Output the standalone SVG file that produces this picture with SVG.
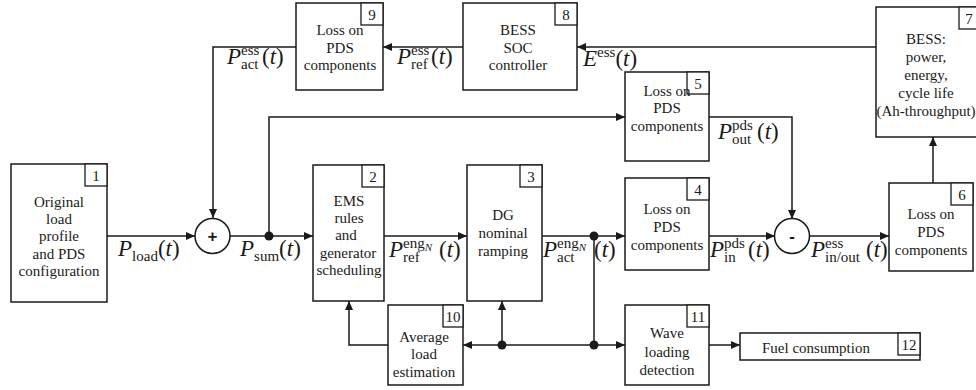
<svg xmlns="http://www.w3.org/2000/svg" width="976" height="390" viewBox="0 0 976 390">
<defs>
<marker id="ah" markerUnits="userSpaceOnUse" markerWidth="10" markerHeight="8" refX="9" refY="4" orient="auto">
<path d="M0,0 L9,4 L0,8 Z" fill="#1a1a1a"/>
</marker>
<style>
.box{fill:#fff;stroke:#1a1a1a;stroke-width:1.5}
.nb{fill:#fff;stroke:#1a1a1a;stroke-width:1.3}
.t{font-family:"Liberation Serif","Times New Roman",serif;font-size:15px;fill:#1a1a1a;text-anchor:middle}
.n{font-family:"Liberation Serif","Times New Roman",serif;font-size:15px;fill:#1a1a1a;text-anchor:middle}
.c{fill:none;stroke:#1a1a1a;stroke-width:1.5}
.a{marker-end:url(#ah)}
.dot{fill:#1a1a1a}
.m{font-family:"Liberation Serif","Times New Roman",serif;font-size:23px;fill:#1a1a1a}
.i{font-style:italic}
.s{font-size:15px}
.ss{font-size:11px;font-style:italic}
.sign{font-family:"Liberation Sans",Arial,sans-serif;font-size:17px;font-weight:bold;fill:#1a1a1a;text-anchor:middle}
</style>
</defs>

<g id="connectors">
<path class="c a" d="M107,236 H195"/>
<path class="c a" d="M230,236 H313"/>
<path class="c a" d="M269,236 V117 H625"/>
<path class="c a" d="M296,47 H213 V218"/>
<path class="c a" d="M463,47 H383"/>
<path class="c a" d="M876,47 H577"/>
<path class="c a" d="M384,236 H467"/>
<path class="c a" d="M542,236 H625"/>
<path class="c" d="M594,236 V345"/>
<path class="c a" d="M594,345 H625"/>
<path class="c a" d="M594,345 H463"/>
<path class="c a" d="M502,345 V301"/>
<path class="c a" d="M388,345 H349 V301"/>
<path class="c a" d="M709,236 H775"/>
<path class="c a" d="M709,117 H792 V219"/>
<path class="c a" d="M809,236 H889"/>
<path class="c a" d="M933,183 V137"/>
<path class="c a" d="M709,345 H740"/>
<circle class="dot" cx="269" cy="236" r="4.5"/>
<circle class="dot" cx="594" cy="236" r="4.5"/>
<circle class="dot" cx="594" cy="345" r="4.5"/>
<circle class="dot" cx="502" cy="345" r="4.5"/>
</g>

<g id="labels">
<text class="m" x="118" y="256"><tspan class="i">P</tspan><tspan class="s" dy="5">load</tspan><tspan dy="-5">(</tspan><tspan class="i">t</tspan>)</text>
<text class="m" x="240" y="256"><tspan class="i">P</tspan><tspan class="s" dy="5">sum</tspan><tspan dy="-5">(</tspan><tspan class="i">t</tspan>)</text>
<text class="m" x="389" y="257"><tspan class="i">P</tspan><tspan class="s" dy="-9">eng</tspan><tspan class="ss" dy="3">N</tspan><tspan class="s" x="403" dy="11">ref</tspan><tspan x="439" dy="-5">(</tspan><tspan class="i">t</tspan>)</text>
<text class="m" x="543" y="257"><tspan class="i">P</tspan><tspan class="s" dy="-9">eng</tspan><tspan class="ss" dy="3">N</tspan><tspan class="s" x="557" dy="11">act</tspan><tspan x="594" dy="-5">(</tspan><tspan class="i">t</tspan>)</text>
<text class="m" x="710" y="257"><tspan class="i">P</tspan><tspan class="s" dy="-9">pds</tspan><tspan class="s" x="724" dy="14">in</tspan><tspan x="748" dy="-5">(</tspan><tspan class="i">t</tspan>)</text>
<text class="m" x="811" y="257"><tspan class="i">P</tspan><tspan class="s" dy="-9">ess</tspan><tspan class="s" x="825" dy="14">in/out</tspan><tspan x="866" dy="-5">(</tspan><tspan class="i">t</tspan>)</text>
<text class="m" x="718" y="139"><tspan class="i">P</tspan><tspan class="s" dy="-9">pds</tspan><tspan class="s" x="732" dy="14">out</tspan><tspan x="757" dy="-5">(</tspan><tspan class="i">t</tspan>)</text>
<text class="m" x="227" y="64"><tspan class="i">P</tspan><tspan class="s" dy="-9">ess</tspan><tspan class="s" x="241" dy="14">act</tspan><tspan x="262" dy="-5">(</tspan><tspan class="i">t</tspan>)</text>
<text class="m" x="397" y="64"><tspan class="i">P</tspan><tspan class="s" dy="-9">ess</tspan><tspan class="s" x="411" dy="14">ref</tspan><tspan x="431" dy="-5">(</tspan><tspan class="i">t</tspan>)</text>
<text class="m" x="583" y="66"><tspan class="i">E</tspan><tspan class="s" dy="-9">ess</tspan><tspan dy="9">(</tspan><tspan class="i">t</tspan>)</text>
</g>

<g id="sum1">
<circle class="box" cx="212.5" cy="236" r="17.5"/>
<text class="sign" x="212.5" y="242">+</text>
</g>
<g id="sum2">
<circle class="box" cx="792" cy="236" r="17.5"/>
<text class="sign" x="792" y="242">-</text>
</g>

<g id="node1">
<rect class="box" x="11" y="164" width="96" height="138"/>
<rect class="nb" x="85" y="164" width="22" height="22"/>
<text class="n" x="96" y="181">1</text>
<text class="t" x="59" y="207">Original</text>
<text class="t" x="59" y="224">load</text>
<text class="t" x="59" y="241">profile</text>
<text class="t" x="59" y="259">and PDS</text>
<text class="t" x="59" y="276">configuration</text>
</g>

<g id="node2">
<rect class="box" x="313" y="165" width="71" height="136"/>
<rect class="nb" x="362" y="165" width="22" height="22"/>
<text class="n" x="373" y="182">2</text>
<text class="t" x="349" y="206">EMS</text>
<text class="t" x="349" y="223">rules</text>
<text class="t" x="346" y="240">and</text>
<text class="t" x="348" y="258">generator</text>
<text class="t" x="349" y="275">scheduling</text>
</g>

<g id="node3">
<rect class="box" x="467" y="165" width="75" height="136"/>
<rect class="nb" x="520" y="165" width="22" height="22"/>
<text class="n" x="531" y="182">3</text>
<text class="t" x="503" y="220">DG</text>
<text class="t" x="503" y="238">nominal</text>
<text class="t" x="503" y="256">ramping</text>
</g>

<g id="node4">
<rect class="box" x="625" y="178" width="84" height="92"/>
<rect class="nb" x="687" y="178" width="22" height="22"/>
<text class="n" x="698" y="195">4</text>
<text class="t" x="667" y="214">Loss on</text>
<text class="t" x="667" y="232">PDS</text>
<text class="t" x="667" y="250">components</text>
</g>

<g id="node5">
<rect class="box" x="625" y="72" width="84" height="89"/>
<rect class="nb" x="687" y="72" width="22" height="22"/>
<text class="n" x="698" y="89">5</text>
<text class="t" x="667" y="96">Loss on</text>
<text class="t" x="667" y="113">PDS</text>
<text class="t" x="667" y="131">components</text>
</g>

<g id="node6">
<rect class="box" x="889" y="183" width="84" height="88"/>
<rect class="nb" x="951" y="183" width="22" height="22"/>
<text class="n" x="962" y="200">6</text>
<text class="t" x="931" y="219">Loss on</text>
<text class="t" x="931" y="237">PDS</text>
<text class="t" x="931" y="255">components</text>
</g>

<g id="node7">
<rect class="box" x="876" y="7" width="104" height="130"/>
<rect class="nb" x="959" y="7" width="22" height="22"/>
<text class="n" x="969" y="24">7</text>
<text class="t" x="926" y="44">BESS:</text>
<text class="t" x="926" y="62">power,</text>
<text class="t" x="926" y="80">energy,</text>
<text class="t" x="926" y="98">cycle life</text>
<text class="t" x="926" y="116">(Ah-throughput)</text>
</g>

<g id="node8">
<rect class="box" x="463" y="3" width="114" height="87"/>
<rect class="nb" x="555" y="3" width="22" height="22"/>
<text class="n" x="566" y="20">8</text>
<text class="t" x="518" y="35">BESS</text>
<text class="t" x="518" y="53">SOC</text>
<text class="t" x="518" y="70">controller</text>
</g>

<g id="node9">
<rect class="box" x="296" y="3" width="87" height="87"/>
<rect class="nb" x="361" y="3" width="22" height="22"/>
<text class="n" x="372" y="20">9</text>
<text class="t" x="340" y="35">Loss on</text>
<text class="t" x="340" y="53">PDS</text>
<text class="t" x="340" y="70">components</text>
</g>

<g id="node10">
<rect class="box" x="388" y="305" width="75" height="80"/>
<rect class="nb" x="443" y="305" width="20" height="22"/>
<text class="n" x="453" y="322">10</text>
<text class="t" x="424" y="342">Average</text>
<text class="t" x="424" y="359">load</text>
<text class="t" x="424" y="377">estimation</text>
</g>

<g id="node11">
<rect class="box" x="625" y="305" width="84" height="80"/>
<rect class="nb" x="687" y="305" width="22" height="22"/>
<text class="n" x="698" y="322">11</text>
<text class="t" x="667" y="338">Wave</text>
<text class="t" x="667" y="357">loading</text>
<text class="t" x="667" y="375">detection</text>
</g>

<g id="node12">
<rect class="box" x="740" y="333" width="180" height="27"/>
<rect class="nb" x="898" y="333" width="22" height="22"/>
<text class="n" x="909" y="350">12</text>
<text class="t" x="816" y="353">Fuel consumption</text>
</g>
</svg>
